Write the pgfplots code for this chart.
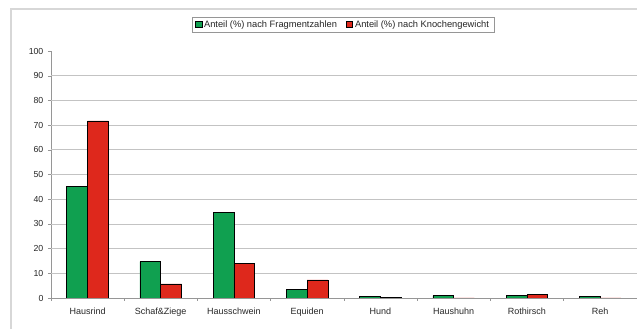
\documentclass[border=0pt]{standalone}
\usepackage{pgfplots}
\pgfplotsset{compat=1.18}
\usepackage{fontspec}
\setmainfont{Liberation Sans}
\definecolor{barG}{RGB}{16,160,80}
\definecolor{barR}{RGB}{222,40,28}
\definecolor{gridc}{RGB}{195,195,195}
\definecolor{axc}{RGB}{150,150,150}
\definecolor{framec}{RGB}{215,215,215}
\begin{document}
\begin{tikzpicture}[x=1pt,y=1pt]
\useasboundingbox (0,0) rectangle (637,329);
\begin{scope}
\clip (0,0) rectangle (637,329);
\draw[framec, line width=1.5pt] (11,-10) -- (11,320) -- (660,320);
\end{scope}
\begin{axis}[
  at={(50.9pt,31pt)}, anchor=south west,
  scale only axis, width=585.8pt, height=247pt,
  xmin=-0.5, xmax=7.5, ymin=0, ymax=100,
  axis x line*=bottom, axis y line*=left,
  axis line style={axc,-},
  ybar=0pt, bar width=20.8pt,
  xtick={0,...,7},
  xticklabels={Hausrind,Schaf\&Ziege,Hausschwein,Equiden,Hund,Haushuhn,Rothirsch,Reh},
  major x tick style={draw=none},
  minor xtick={-0.5,0.5,...,7.5},
  minor x tick style={axc},
  minor tick length=3pt,
  ytick={0,10,...,100},
  major y tick style={axc},
  major tick length=3pt,
  tick align=outside,
  extra y ticks={10,20,...,90},
  extra y tick labels={},
  extra y tick style={grid=major, major grid style={gridc, line width=0.6pt}, major tick length=0pt},
  /pgf/number format/assume math mode=true,
  tick label style={text=black!85},
  xticklabel style={yshift=-3.5pt, font=\fontsize{9}{11}\selectfont},
  yticklabel style={xshift=-1pt, font=\fontsize{8.75}{10}\selectfont},
  legend columns=2,
  legend style={at={(0.4986,1.107)}, anchor=center, draw=axc, line width=0.4pt,
    font=\fontsize{9.3}{10.5}\selectfont, text=black!85, inner xsep=3pt, inner ysep=1.5pt,
    /tikz/every even column/.append style={column sep=7pt}},
  legend image code/.code={\draw[#1] (0pt,-3.2pt) rectangle (6.5pt,3.2pt);},
]
\addplot[fill=barG, draw=black, line width=0.6pt] coordinates {(0,45.1) (1,14.7) (2,34.6) (3,3.4) (4,0.65) (5,1.0) (6,0.9) (7,0.5)};
\addplot[fill=barR, draw=black, line width=0.6pt] coordinates {(0,71.7) (1,5.7) (2,14.0) (3,7.3) (4,0.2) (5,0) (6,1.3) (7,0)};
\legend{Anteil (\%) nach Fragmentzahlen,Anteil (\%) nach Knochengewicht}
\end{axis}
\end{tikzpicture}
\end{document}
